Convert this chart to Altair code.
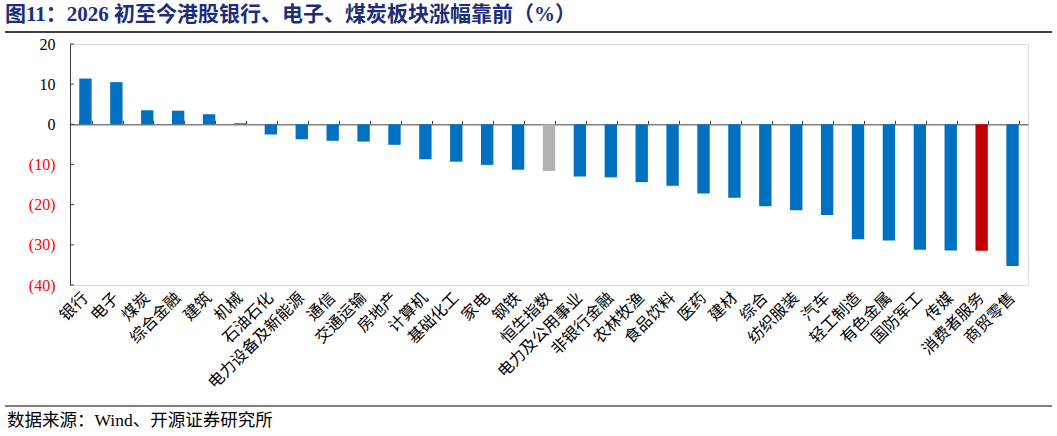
import altair as alt
import pandas as pd

categories = ["银行", "电子", "煤炭", "综合金融", "建筑", "机械", "石油石化", "电力设备及新能源",
              "通信", "交通运输", "房地产", "计算机", "基础化工", "家电", "钢铁", "恒生指数",
              "电力及公用事业", "非银行金融", "农林牧渔", "食品饮料", "医药", "建材", "综合",
              "纺织服装", "汽车", "轻工制造", "有色金属", "国防军工", "传媒", "消费者服务", "商贸零售"]
values = [11.4, 10.5, 3.5, 3.4, 2.5, 0.3, -2.5, -3.7, -4.1, -4.3, -5.1, -8.7, -9.3, -10.1,
          -11.3, -11.6, -13.0, -13.2, -14.4, -15.3, -17.2, -18.3, -20.4, -21.4, -22.6,
          -28.6, -28.9, -31.2, -31.4, -31.5, -35.3]
highlight = {"恒生指数": "#B3B3B3", "消费者服务": "#C00000"}
base_color = "#0070C0"
y_ticks = [-40, -30, -20, -10, 0, 10, 20]

title_text = "图11：2026 初至今港股银行、电子、煤炭板块涨幅靠前（%）"
source_text = "数据来源：Wind、开源证券研究所"

df = pd.DataFrame({
    "cat": categories,
    "val": values,
    "color": [highlight.get(c, base_color) for c in categories],
})
tick_df = pd.DataFrame({"v": y_ticks})

W, H = 958, 241
ZERO_PX = H * 20 / 60

xscale = alt.Scale(paddingInner=0.6, paddingOuter=0.3)
yscale = alt.Scale(domain=[-40, 20], nice=False)

y_axis = alt.Axis(
    values=y_ticks,
    labelExpr="datum.value < 0 ? '(' + abs(datum.value) + ')' : datum.value",
    labelColor={"condition": {"test": "datum.value < 0", "value": "#FF0000"}, "value": "#000000"},
    labelFont="Liberation Serif",
    labelFontSize=16,
    labelPadding=15,
    tickSize=0,
    domainColor="#404040",
    domainWidth=1,
    grid=False,
    title=None,
)

bars = alt.Chart(df).mark_bar().encode(
    x=alt.X("cat:N", sort=categories, scale=xscale,
            axis=alt.Axis(orient="top", offset=-ZERO_PX, labels=False, title=None,
                          domainColor="#808080", domainWidth=1.5, ticks=True, tickSize=4,
                          tickColor="#404040", tickBand="extent", grid=False)),
    y=alt.Y("val:Q", scale=yscale, axis=y_axis),
    color=alt.Color("color:N", scale=None),
)

label_layer = alt.Chart(df).mark_bar(opacity=0).encode(
    x=alt.X("cat:N", sort=categories, scale=xscale,
            axis=alt.Axis(orient="bottom", domain=False, ticks=False, title=None,
                          labelAngle=-45, labelAlign="right", labelBaseline="middle",
                          labelFont="Noto Sans CJK SC", labelFontSize=16, labelColor="#000000",
                          labelPadding=10, labelOverlap=False, grid=False)),
    y=alt.Y("val:Q", scale=yscale, axis=y_axis),
)

yticks = alt.Chart(tick_df).mark_rule(color="#404040", strokeWidth=1).encode(
    x=alt.value(0), x2=alt.value(4),
    y=alt.Y("v:Q", scale=yscale, axis=y_axis),
)

title = alt.Chart(pd.DataFrame({"t": [title_text]})).mark_text(
    align="left", baseline="middle", fontSize=21, fontWeight="bold",
    font="Liberation Serif, Noto Sans CJK SC", color="#1C2D7C",
).encode(x=alt.value(-65), y=alt.value(-29), text="t:N")

title_line = alt.Chart(pd.DataFrame({"a": [0]})).mark_rule(color="#000000", strokeWidth=1.5).encode(
    x=alt.value(-65), x2=alt.value(982), y=alt.value(-12))

foot_line = alt.Chart(pd.DataFrame({"a": [0]})).mark_rule(color="#808080", strokeWidth=2).encode(
    x=alt.value(-65), x2=alt.value(982), y=alt.value(362))

footer = alt.Chart(pd.DataFrame({"t": [source_text]})).mark_text(
    align="left", baseline="middle", fontSize=17.5,
    font="Liberation Serif, Noto Sans CJK SC", color="#000000",
).encode(x=alt.value(-63), y=alt.value(377), text="t:N")

chart = alt.layer(bars, label_layer, yticks, title, title_line, foot_line, footer).resolve_axis(
    x="independent"
).properties(
    width=W, height=H,
    autosize=alt.AutoSizeParams(type="none"),
    padding={"left": 70, "top": 44, "right": 1057 - 70 - W, "bottom": 436 - 44 - H},
).configure_view(stroke=None).configure(background="white")

chart.save("out.html", embed_options={"renderer": "svg", "actions": False})
